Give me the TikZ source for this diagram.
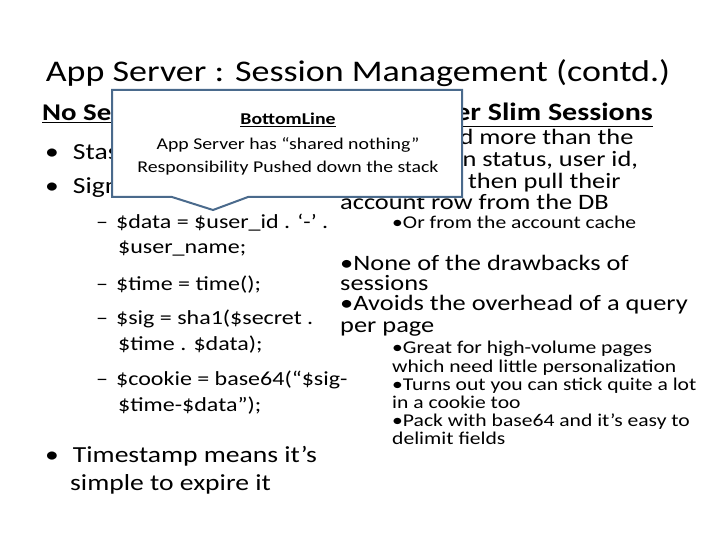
\documentclass[tikz,border=0pt]{standalone}
\usepackage{fontspec}
\setmainfont{Carlito}[FakeStretch=1.2]
\definecolor{cborder}{HTML}{4A6A8C}
\begin{document}
\begin{tikzpicture}[x=1pt,y=-1pt,
  t/.style={anchor=base west,inner sep=0pt,font=\fontsize{23}{24}\selectfont},
  s/.style={anchor=base west,inner sep=0pt,font=\fontsize{20}{21}\selectfont},
  r/.style={anchor=base west,inner sep=0pt,font=\fontsize{22}{20}\selectfont},
  q/.style={anchor=base west,inner sep=0pt,font=\fontsize{18}{16}\selectfont},
  c/.style={anchor=base,inner sep=0pt,font=\fontsize{16.5}{16}\selectfont}]
\useasboundingbox (0,0) rectangle (720,540);
\node[anchor=base,inner sep=0pt,font=\fontsize{30}{30}\selectfont] (title) at (358,82) {App Server : Session Management (contd.)};
% left column
\node[t,font=\fontsize{24}{24}\selectfont\bfseries] (lh) at (42,121) {\underline{No Sessions}};
\node[t] (b1) at (45,160) {•\hspace{14pt}Stash it all in a cookie!};
\node[t] (b2) at (45,194) {•\hspace{14pt}Sign the cookie for safety};
\node[s] (d1) at (96,229) {–\hspace{8pt}\$data = \$user\_id . ‘-’ .};
\node[s] (d1b) at (118,254) {\$user\_name;};
\node[s] (d2) at (96,290) {–\hspace{8pt}\$time = time();};
\node[s] (d3) at (96,324) {–\hspace{8pt}\$sig = sha1(\$secret .};
\node[s] (d3b) at (118,350) {\$time . \$data);};
\node[s] (d4) at (96,385) {–\hspace{8pt}\$cookie = base64(“\$sig-};
\node[s] (d4b) at (118,411) {\$time-\$data”);};
\node[t] (b3) at (45,462) {•\hspace{14pt}Timestamp means it’s};
\node[t] (b3b) at (70,490) {simple to expire it};
% right column
\node[t,anchor=base east,font=\fontsize{25}{26}\selectfont\bfseries] (rh) at (653,121) {\underline{Super Slim Sessions}};
\node[r] (r1) at (340,145) {•If you need more than the};
\node[r] (r1b) at (340,167) {cookie (login status, user id,};
\node[r] (r1c) at (340,189) {username), then pull their};
\node[r] (r1d) at (340,210) {account row from the DB};
\node[q] (r2) at (392,229) {•Or from the account cache};
\node[r] (r3) at (340,270) {•None of the drawbacks of};
\node[r] (r3b) at (340,290) {sessions};
\node[r] (r4) at (340,310) {•Avoids the overhead of a query};
\node[r] (r4b) at (340,332) {per page};
\node[q] (r5) at (392,353) {•Great for high-volume pages};
\node[q] (r5b) at (392,372) {which need little personalization};
\node[q] (r6) at (392,390) {•Turns out you can stick quite a lot};
\node[q] (r6b) at (392,408) {in a cookie too};
\node[q] (r7) at (392,426) {•Pack with base64 and it’s easy to};
\node[q] (r7b) at (392,444) {delimit fields};
% callout
\filldraw[draw=cborder,line width=2pt,fill=white] (112,90) -- (462,90) -- (462,197) -- (248,197) -- (213,210) -- (172,197) -- (112,197) -- cycle;
\node[c,font=\fontsize{16.5}{16}\selectfont\bfseries] (bl) at (288,125) {\underline{BottomLine}};
\node[c] (bl2) at (288,150) {App Server has “shared nothing”};
\node[c] (bl3) at (288,173) {Responsibility Pushed down the stack};
\end{tikzpicture}
\end{document}
